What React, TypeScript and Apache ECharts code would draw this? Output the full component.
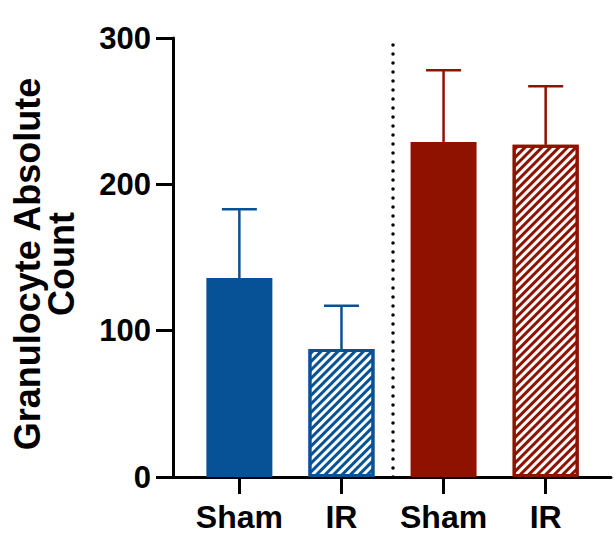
import React, { useEffect, useRef } from "react";
import * as echarts from "echarts";

const categories = ["Sham", "IR", "Sham", "IR"];
const positions = [0, 1, 2, 3];
const means = [136, 87.5, 229, 227];
const upperErrors = [183, 117, 278, 267];
const hatched = [false, true, false, true];
const groupColors = ["#075296", "#075296", "#8f1200", "#8f1200"];
const yTicks = [0, 100, 200, 300];
const dividerAt = [1.5];

const FONT = "'Liberation Sans', Arial, Helvetica, sans-serif";

export default function App() {
  const ref = useRef<HTMLDivElement>(null);
  useEffect(() => {
    document.body.style.margin = "0";
    const chart = echarts.init(ref.current!, null, { renderer: "svg" });
    const barData = positions.map((p, i) => ({
      value: [p, means[i]],
      itemStyle: hatched[i]
        ? {
            color: "#ffffff",
            borderColor: groupColors[i],
            borderWidth: 3,
            decal: {
              symbol: "rect",
              color: groupColors[i],
              dashArrayX: [1, 0],
              dashArrayY: [3, 3],
              rotation: -Math.PI / 4,
              symbolSize: 1,
            },
          }
        : { color: groupColors[i] },
    }));
    const errData = positions.map((p, i) => [p, means[i], upperErrors[i], i]);
    chart.setOption({
      animation: false,
      aria: { enabled: false, decal: { show: false } },
      grid: { left: 173, top: 38, bottom: 60, right: 4 },
      xAxis: {
        type: "value",
        min: -0.65,
        max: 3.64,
        splitLine: { show: false },
        axisLine: { show: true, onZero: false, lineStyle: { color: "#000", width: 3 } },
        axisTick: {
          show: true,
          customValues: positions,
          length: 17,
          lineStyle: { color: "#000", width: 3 },
        },
        axisLabel: {
          customValues: positions,
          formatter: (v: number) => categories[Math.round(v)] ?? "",
          color: "#000",
          fontFamily: FONT,
          fontWeight: "bold",
          fontSize: 32,
          margin: 24,
        },
      },
      yAxis: {
        type: "value",
        min: 0,
        max: 300,
        interval: 100,
        splitLine: { show: false },
        axisLine: { show: true, onZero: false, lineStyle: { color: "#000", width: 3 } },
        axisTick: { show: true, length: 17, lineStyle: { color: "#000", width: 3 } },
        axisLabel: {
          color: "#000",
          fontFamily: FONT,
          fontWeight: "bold",
          fontSize: 31,
          margin: 22,
          formatter: (v: number) => (yTicks.includes(v) ? String(v) : ""),
        },
      },
      graphic: [
        {
          type: "text",
          x: 44,
          y: 264,
          rotation: Math.PI / 2,
          style: {
            text: "Granulocyte Absolute\nCount",
            textAlign: "center",
            textVerticalAlign: "middle",
            font: `bold 36px ${FONT}`,
            lineHeight: 34,
            fill: "#000",
          },
        },
      ],
      series: [
        {
          type: "custom",
          z: 1,
          data: errData,
          renderItem: (params: any, api: any) => {
            const x = api.value(0);
            const top = api.coord([x, api.value(2)]);
            const base = api.coord([x, api.value(1)]);
            const color = groupColors[api.value(3)];
            const half = 17.5;
            return {
              type: "group",
              children: [
                {
                  type: "line",
                  shape: { x1: top[0], y1: base[1], x2: top[0], y2: top[1] },
                  style: { stroke: color, lineWidth: 2.5 },
                },
                {
                  type: "line",
                  shape: { x1: top[0] - half, y1: top[1], x2: top[0] + half, y2: top[1] },
                  style: { stroke: color, lineWidth: 2.5 },
                },
              ],
            };
          },
        },
        {
          type: "bar",
          z: 2,
          barWidth: 66,
          data: barData,
          markLine: {
            silent: true,
            symbol: ["none", "none"],
            label: { show: false },
            lineStyle: { color: "#000", width: 3.5, type: [0.1, 8.9], cap: "round" },
            data: dividerAt.map((x) => ({ xAxis: x })),
          },
        },
      ],
    });
    return () => chart.dispose();
  }, []);
  return <div ref={ref} style={{ width: 615, height: 537 }} />;
}
